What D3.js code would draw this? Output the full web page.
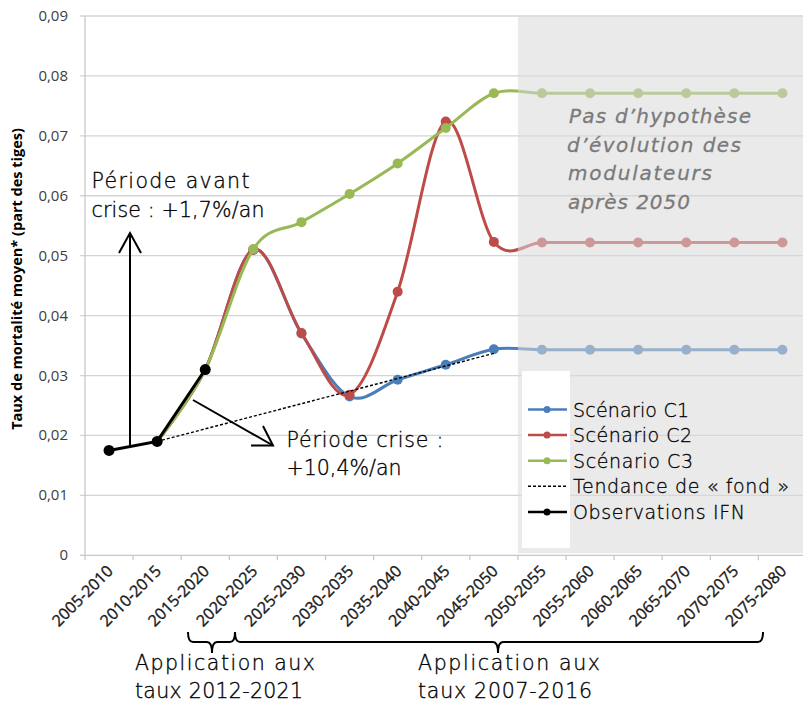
<!DOCTYPE html>
<html><head><meta charset="utf-8">
<script src="https://cdn.jsdelivr.net/npm/d3@7"></script>
<style>body{margin:0;background:#fff}svg{display:block}</style>
</head><body>
<script>
const categories = ["2005-2010","2010-2015","2015-2020","2020-2025","2025-2030","2030-2035","2035-2040","2040-2045","2045-2050","2050-2055","2055-2060","2060-2065","2065-2070","2070-2075","2075-2080"];
const obsIFN = [0.0175, 0.019, 0.031];
const scenC1 = [null, 0.019, 0.031, 0.051, 0.037, 0.0265, 0.0293, 0.0318, 0.0344, 0.0343, 0.0343, 0.0343, 0.0343, 0.0343, 0.0343];
const scenC2 = [null, 0.019, 0.031, 0.051, 0.0371, 0.0268, 0.044, 0.0724, 0.0523, 0.0522, 0.0522, 0.0522, 0.0522, 0.0522, 0.0522];
const scenC3 = [null, 0.019, 0.031, 0.0511, 0.0556, 0.0603, 0.0654, 0.0713, 0.0771, 0.0771, 0.0771, 0.0771, 0.0771, 0.0771, 0.0771];
const trendCats = ["2010-2015", "2045-2050"];
const trendVals = [0.019, 0.0337];
const yTicks = [0, 0.01, 0.02, 0.03, 0.04, 0.05, 0.06, 0.07, 0.08, 0.09];
const legendLabels = ["Scénario C1", "Scénario C2", "Scénario C3", "Tendance de « fond »", "Observations IFN"];

const W = 803, H = 707;
const AF = "DejaVu Sans";
const svg = d3.select("body").append("svg").attr("width", W).attr("height", H);
const x = d3.scaleBand().domain(categories).range([85, 85 + 15 * 48.1]);
const xc = c => x(c) + x.bandwidth() / 2;
const y = d3.scaleLinear().domain([0, 0.09]).range([555.3, 16]);
const fmt = v => v === 0 ? "0" : d3.format(".2f")(v).replace(".", ",");

// gridlines
svg.append("g").selectAll("line").data(yTicks.slice(1)).join("line")
  .attr("x1", 80).attr("x2", W).attr("y1", d => y(d)).attr("y2", d => y(d))
  .attr("stroke", "#d4d4d4").attr("stroke-width", 1.3);
svg.append("line").attr("x1", 80).attr("x2", 85).attr("y1", y(0)).attr("y2", y(0)).attr("stroke", "#c8c8c8").attr("stroke-width", 1.3);
svg.append("line").attr("x1", 85).attr("x2", 85).attr("y1", y(0.09)).attr("y2", y(0)).attr("stroke", "#c8c8c8").attr("stroke-width", 1.3);
svg.append("line").attr("x1", 85).attr("x2", W).attr("y1", y(0)).attr("y2", y(0)).attr("stroke", "#c8c8c8").attr("stroke-width", 1.3);
const bounds = categories.map(c => x(c)).concat([x(categories[14]) + x.bandwidth()]);
svg.append("g").selectAll("line").data(bounds).join("line")
  .attr("x1", d => d).attr("x2", d => d).attr("y1", y(0)).attr("y2", y(0) + 5)
  .attr("stroke", "#c8c8c8").attr("stroke-width", 1.3);

// y labels
svg.append("g").selectAll("text").data(yTicks).join("text")
  .attr("x", 68).attr("y", d => y(d) + 5).attr("text-anchor", "end")
  .attr("font-family", "Open Sans").attr("font-size", 15).attr("fill", "#404040").text(fmt);

// y title
svg.append("text").attr("transform", "translate(22,279) rotate(-90)")
  .attr("text-anchor", "middle").attr("font-family", "Open Sans").attr("font-weight", "bold")
  .attr("font-size", 14.5).attr("fill", "#000").text("Taux de mortalité moyen* (part des tiges)");

// x labels
svg.append("g").selectAll("text").data(categories).join("text")
  .attr("transform", c => `translate(${xc(c) + 5},${572}) rotate(-45)`)
  .attr("text-anchor", "end").attr("font-family", "Open Sans").attr("font-size", 16)
  .attr("fill", "#1a1a1a").attr("stroke", "#1a1a1a").attr("stroke-width", 0.35).text(c => c);

// series
const curve = d3.curveCardinal.tension(0);
const line = d3.line().defined(d => d.v != null).x(d => xc(d.c)).y(d => y(d.v)).curve(curve);
const series = [
  {vals: scenC1, color: "#4a7ebb"},
  {vals: scenC2, color: "#be4b48"},
  {vals: scenC3, color: "#98b954"}
];
series.forEach(s => {
  const pts = s.vals.map((v, i) => ({c: categories[i], v}));
  svg.append("path").datum(pts).attr("d", line).attr("fill", "none")
    .attr("stroke", s.color).attr("stroke-width", 3);
  svg.append("g").selectAll("circle").data(pts.filter(d => d.v != null && d.c !== categories[1] && d.c !== categories[2])).join("circle")
    .attr("cx", d => xc(d.c)).attr("cy", d => y(d.v)).attr("r", 5).attr("fill", s.color);
});
// trend
const trendPts = trendCats.map((c, i) => ({c, v: trendVals[i]}));
svg.append("path").datum(trendPts).attr("d", d3.line().x(d => xc(d.c)).y(d => y(d.v)))
  .attr("stroke", "#000").attr("stroke-width", 1.4).attr("stroke-dasharray", "3,2").attr("fill", "none");
// observations
const obsPts = obsIFN.map((v, i) => ({c: categories[i], v}));
svg.append("path").datum(obsPts).attr("d", d3.line().x(d => xc(d.c)).y(d => y(d.v)))
  .attr("stroke", "#000").attr("stroke-width", 3).attr("fill", "none");
svg.append("g").selectAll("circle").data(obsPts).join("circle")
  .attr("cx", d => xc(d.c)).attr("cy", d => y(d.v)).attr("r", 5.5).attr("fill", "#000");

// gray overlay after 2050
const gx = x(categories[9]);
svg.append("rect").attr("x", gx).attr("y", y(0.09)).attr("width", W - gx).attr("height", y(0) - y(0.09) - 2)
  .attr("fill", "rgb(217,217,217)").attr("fill-opacity", 0.55);

// helper for fitted text
function ftext(g, x0, y0, str, len) {
  return g.append("text").attr("x", x0).attr("y", y0).attr("textLength", len)
    .attr("lengthAdjust", "spacing").text(str);
}

// italic note
const ng = svg.append("g").attr("font-family", AF).attr("font-style", "italic").attr("font-weight", 300)
  .attr("font-size", 20).attr("fill", "#7a7a7a").attr("stroke", "#7a7a7a").attr("stroke-width", 0.3);
ftext(ng, 569, 123, "Pas d’hypothèse", 182);
ftext(ng, 567, 151.5, "d’évolution des", 174);
ftext(ng, 568, 180, "modulateurs", 144);
ftext(ng, 568, 208.5, "après 2050", 122);

// arrows
const ag = svg.append("g").attr("stroke", "#000").attr("stroke-width", 2).attr("fill", "none");
ag.append("line").attr("x1", 130).attr("y1", 446).attr("x2", 130).attr("y2", 233);
ag.append("path").attr("d", "M119,253 L130,233 L141,253");
ag.append("line").attr("x1", 193).attr("y1", 400).attr("x2", 273).attr("y2", 445.5);
ag.append("path").attr("d", "M251,445.5 L273,445.5 L263,426");

// annotation texts
const ann = svg.append("g").attr("font-family", AF).attr("font-weight", 300).attr("font-size", 20.5)
  .attr("fill", "#000").attr("stroke", "#000").attr("stroke-width", 0.35);
ftext(ann, 91.5, 188, "Période avant", 158);
ftext(ann, 91.5, 217, "crise : +1,7%/an", 173);
ftext(ann, 286.5, 447, "Période crise :", 157);
ftext(ann, 286.5, 475, "+10,4%/an", 115);
ftext(ann, 135, 670, "Application aux", 180);
ftext(ann, 135, 698, "taux 2012-2021", 168);
ftext(ann, 418, 670, "Application aux", 182);
ftext(ann, 418, 698, "taux 2007-2016", 174);

// braces
function brace(x1, x2, xm, y0, yh, yt) {
  const r = 5;
  return `M${x1},${y0} Q${x1},${yh} ${x1 + r},${yh} L${xm - r},${yh} Q${xm},${yh} ${xm},${yt} Q${xm},${yh} ${xm + r},${yh} L${x2 - r},${yh} Q${x2},${yh} ${x2},${y0}`;
}
svg.append("path").attr("d", brace(188, 235, 212, 632, 642, 653)).attr("stroke", "#000").attr("stroke-width", 2).attr("fill", "none");
svg.append("path").attr("d", brace(235, 763, 498, 632, 642, 653)).attr("stroke", "#000").attr("stroke-width", 2).attr("fill", "none");

// legend
svg.append("rect").attr("x", 522).attr("y", 371).attr("width", 48).attr("height", 177).attr("fill", "#fff");
const legColors = ["#4a7ebb", "#be4b48", "#98b954", "#000", "#000"];
const legLens = [116, 119, 120, 216, 172];
const lg = svg.append("g").attr("font-family", AF).attr("font-weight", 300).attr("font-size", 19)
  .attr("fill", "#000").attr("stroke", "#000").attr("stroke-width", 0.3);
legendLabels.forEach((lab, i) => {
  const ly = 409.5 + i * 25.6;
  svg.append("line").attr("x1", 528).attr("x2", 567).attr("y1", ly).attr("y2", ly)
    .attr("stroke", legColors[i]).attr("stroke-width", i === 3 ? 1.4 : 2.5)
    .attr("stroke-dasharray", i === 3 ? "3,2" : null);
  if (i !== 3) svg.append("circle").attr("cx", 547).attr("cy", ly).attr("r", 3.5).attr("fill", legColors[i]);
  ftext(lg, 573, ly + 7, lab, legLens[i]);
});
</script>
</body></html>
